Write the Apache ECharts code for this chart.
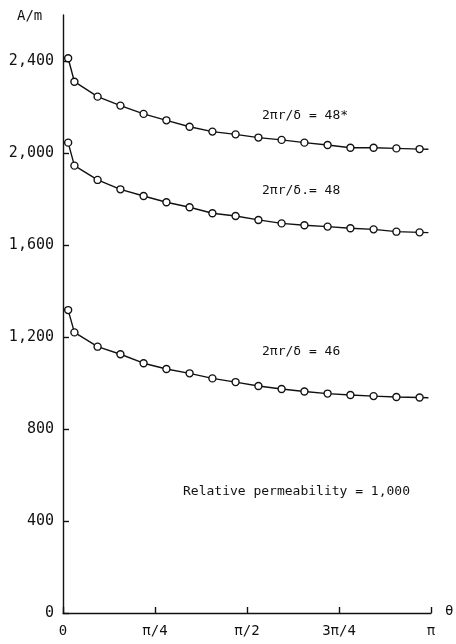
<!DOCTYPE html>
<html>
<head>
<meta charset="utf-8">
<script src="https://cdn.jsdelivr.net/npm/echarts@6/dist/echarts.min.js"></script>
<style>
  html, body { margin: 0; padding: 0; background: #fff; }
  #chart { width: 456px; height: 644px; }
</style>
</head>
<body>
<div id="chart"></div>
<script>
// Angle theta, in units of pi
const theta = [0.014, 0.031, 0.094, 0.156, 0.219, 0.281, 0.344, 0.406, 0.469,
               0.531, 0.594, 0.656, 0.719, 0.781, 0.844, 0.906, 0.969];
// Field strength (A/m) for each value of 2*pi*r/delta
const h48star = [2412, 2310, 2245, 2206, 2170, 2142, 2114, 2093, 2081,
                 2067, 2057, 2045, 2035, 2023, 2023, 2020, 2017];
const h48 = [2045, 1945, 1883, 1842, 1813, 1786, 1764, 1738, 1726,
             1709, 1694, 1686, 1680, 1673, 1668, 1658, 1655];
const h46 = [1317, 1220, 1158, 1125, 1086, 1061, 1042, 1020, 1004,
             987, 974, 963, 954, 948, 943, 939, 937];
// Where each drawn curve stops, just short of theta = pi
const lineEnd = 0.993;
const endValues = [2016, 1654, 936];

const xTicks = [0, 0.25, 0.5, 0.75, 1];
const xTickLabels = ['0', 'π/4', 'π/2', '3π/4', 'π'];
const yTicks = [0, 400, 800, 1200, 1600, 2000, 2400];
const yTickLabels = ['0', '400', '800', '1,200', '1,600', '2,000', '2,400'];

const curveLabels = ['2πr/δ = 48*', '2πr/δ.= 48', '2πr/δ = 46'];
const noteText = 'Relative permeability = 1,000';

const mono = 'DejaVu Sans Mono';
const ink = '#111';

function seriesData(values, endVal) {
  const pts = theta.map((t, i) => [t, values[i]]);
  pts.push({ value: [lineEnd, endVal], symbol: 'none' });
  return pts;
}

function makeSeries(values, endVal) {
  return {
    type: 'line',
    data: seriesData(values, endVal),
    symbol: 'circle',
    symbolSize: 7,
    showAllSymbol: true,
    lineStyle: { color: ink, width: 1.4 },
    itemStyle: { color: '#fff', borderColor: ink, borderWidth: 1.4 },
    emphasis: { disabled: true },
    animation: false,
    z: 3
  };
}

const chart = echarts.init(document.getElementById('chart'), null, { renderer: 'canvas' });

chart.setOption({
  backgroundColor: '#fff',
  animation: false,
  grid: { left: 63, right: 25, top: 15, bottom: 31, containLabel: false },
  xAxis: {
    type: 'value',
    min: 0, max: 1, interval: 0.25,
    axisLine: { show: true, lineStyle: { color: ink, width: 1.4 } },
    axisTick: { show: true, inside: true, length: 6, lineStyle: { color: ink, width: 1.4 } },
    axisLabel: {
      show: true, margin: 11, color: ink, fontFamily: mono, fontSize: 14,
      formatter: v => {
        const i = xTicks.findIndex(t => Math.abs(t - v) < 1e-6);
        return i >= 0 ? xTickLabels[i] : '';
      }
    },
    splitLine: { show: false }
  },
  yAxis: {
    type: 'value',
    min: 0, max: 2600,
    axisLine: { show: true, lineStyle: { color: ink, width: 1.4 } },
    axisTick: { show: true, inside: true, length: 6, customValues: yTicks,
                lineStyle: { color: ink, width: 1.4 } },
    axisLabel: {
      show: true, margin: 9, color: ink, fontFamily: mono, fontSize: 15,
      customValues: yTicks,
      formatter: v => {
        const i = yTicks.indexOf(v);
        return i >= 0 ? yTickLabels[i] : '';
      }
    },
    splitLine: { show: false }
  },
  series: [
    makeSeries(h48star, endValues[0]),
    makeSeries(h48, endValues[1]),
    makeSeries(h46, endValues[2])
  ],
  graphic: [
    { type: 'text', left: 17, top: 9,
      style: { text: 'A/m', fill: ink, font: '14px ' + mono } },
    { type: 'text', left: 445, top: 604,
      style: { text: 'θ', fill: ink, font: '14px ' + mono } },
    { type: 'text', left: 262, top: 109,
      style: { text: curveLabels[0], fill: ink, font: '13px ' + mono } },
    { type: 'text', left: 262, top: 184,
      style: { text: curveLabels[1], fill: ink, font: '13px ' + mono } },
    { type: 'text', left: 262, top: 345,
      style: { text: curveLabels[2], fill: ink, font: '13px ' + mono } },
    { type: 'text', left: 183, top: 485,
      style: { text: noteText, fill: ink, font: '13px ' + mono } }
  ]
});
</script>
</body>
</html>
